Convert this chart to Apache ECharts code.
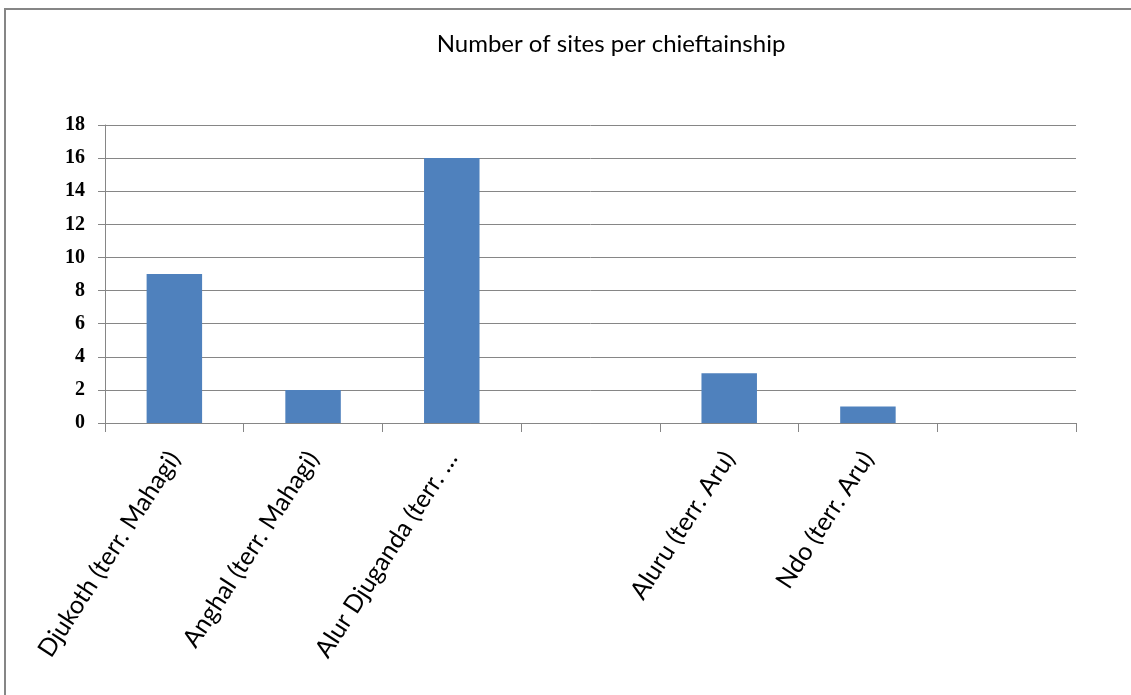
<!DOCTYPE html>
<html>
<head>
<meta charset="utf-8">
<script src="https://cdn.jsdelivr.net/npm/echarts@6/dist/echarts.min.js"></script>
<style>
  html, body { margin: 0; padding: 0; background: #fff; }
  #chart { width: 1131px; height: 695px; }
</style>
</head>
<body>
<div id="chart"></div>
<script>
// Chieftainships (blank slots keep the gaps between groups)
const categories = [
  'Djukoth (terr. Mahagi)',
  'Anghal (terr. Mahagi)',
  'Alur Djuganda (terr. …',
  '',
  'Aluru (terr. Aru)',
  'Ndo (terr. Aru)',
  ''
];
// Number of sites in each chieftainship
const siteCounts = [9, 2, 16, null, 3, 1, null];
// Value axis ticks
const yTicks = [0, 2, 4, 6, 8, 10, 12, 14, 16, 18];

const chart = echarts.init(document.getElementById('chart'), null, { renderer: 'canvas' });
const gray = '#868686';

chart.setOption({
  animation: false,
  backgroundColor: '#ffffff',
  title: {
    text: 'Number of sites per chieftainship',
    left: 606,
    top: 27,
    textAlign: 'center',
    textStyle: { fontFamily: 'Lato', fontWeight: 'normal', fontSize: 24, color: '#000' }
  },
  graphic: [{
    type: 'rect',
    shape: { x: 5, y: 9, width: 1200, height: 800 },
    style: { fill: 'none', stroke: gray, lineWidth: 2 },
    silent: true
  }],
  grid: { left: 105, right: 55, top: 125, bottom: 272, containLabel: false },
  xAxis: {
    type: 'category',
    data: categories,
    axisLine: { lineStyle: { color: gray, width: 1 } },
    axisTick: { show: true, length: 9, alignWithLabel: false, lineStyle: { color: gray } },
    axisLabel: {
      interval: 0,
      rotate: 57,
      margin: 31,
      fontFamily: 'Lato',
      fontSize: 25,
      color: '#000'
    }
  },
  yAxis: {
    type: 'value',
    min: yTicks[0],
    max: yTicks[yTicks.length - 1],
    interval: 2,
    axisLine: { show: true, lineStyle: { color: gray, width: 1 } },
    axisTick: { show: true, length: 7, lineStyle: { color: gray } },
    splitLine: { lineStyle: { color: gray, width: 1 } },
    axisLabel: {
      margin: 20,
      fontFamily: 'Liberation Serif',
      fontWeight: 'bold',
      fontSize: 20,
      color: '#000'
    }
  },
  series: [{
    type: 'bar',
    data: siteCounts,
    barWidth: '40%',
    itemStyle: { color: '#4F81BD' }
  }]
});
</script>
</body>
</html>
